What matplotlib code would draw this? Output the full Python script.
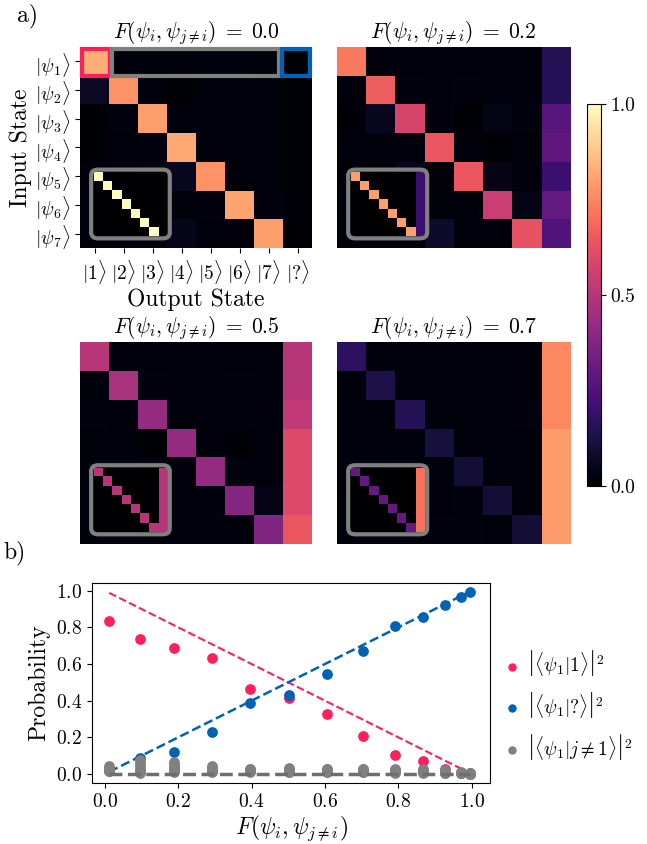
import numpy as np
import matplotlib
matplotlib.use("Agg")
import matplotlib.pyplot as plt
from matplotlib.patches import Rectangle, FancyBboxPatch

plt.rcParams["mathtext.fontset"] = "cm"
plt.rcParams["font.family"] = "serif"
plt.rcParams["font.serif"] = ["cmr10"]
plt.rcParams["axes.formatter.use_mathtext"] = True

# ── heatmap data (rows = input states, cols = |1>..|7>, |?>) ──────────────────
F_labels = ["0.0", "0.2", "0.5", "0.7"]

M_00 = [[0.83, 0.02, 0.02, 0.02, 0.03, 0.03, 0.02, 0.01],
        [0.07, 0.77, 0.02, 0.01, 0.02, 0.02, 0.02, 0.01],
        [0.01, 0.03, 0.80, 0.02, 0.02, 0.02, 0.02, 0.01],
        [0.01, 0.02, 0.03, 0.82, 0.02, 0.02, 0.02, 0.01],
        [0.02, 0.03, 0.04, 0.06, 0.77, 0.02, 0.02, 0.01],
        [0.02, 0.02, 0.02, 0.02, 0.03, 0.81, 0.03, 0.01],
        [0.02, 0.03, 0.03, 0.05, 0.02, 0.02, 0.80, 0.01]]

M_02 = [[0.72, 0.02, 0.02, 0.02, 0.02, 0.03, 0.02, 0.15],
        [0.02, 0.66, 0.03, 0.02, 0.03, 0.03, 0.02, 0.15],
        [0.01, 0.06, 0.58, 0.03, 0.01, 0.04, 0.03, 0.27],
        [0.02, 0.02, 0.03, 0.64, 0.02, 0.01, 0.02, 0.29],
        [0.01, 0.02, 0.05, 0.02, 0.64, 0.04, 0.02, 0.20],
        [0.03, 0.02, 0.02, 0.02, 0.02, 0.55, 0.04, 0.30],
        [0.02, 0.02, 0.02, 0.08, 0.02, 0.02, 0.63, 0.25]]

M_05 = [[0.50, 0.02, 0.02, 0.02, 0.02, 0.02, 0.02, 0.50],
        [0.02, 0.47, 0.03, 0.02, 0.02, 0.03, 0.02, 0.50],
        [0.03, 0.02, 0.42, 0.02, 0.02, 0.02, 0.02, 0.53],
        [0.02, 0.02, 0.01, 0.42, 0.02, 0.01, 0.02, 0.60],
        [0.02, 0.02, 0.03, 0.02, 0.42, 0.03, 0.02, 0.60],
        [0.02, 0.02, 0.02, 0.02, 0.03, 0.38, 0.04, 0.60],
        [0.02, 0.02, 0.02, 0.02, 0.03, 0.02, 0.37, 0.64]]

M_07 = [[0.17, 0.02, 0.02, 0.02, 0.02, 0.02, 0.02, 0.75],
        [0.02, 0.13, 0.02, 0.02, 0.02, 0.02, 0.02, 0.75],
        [0.02, 0.02, 0.15, 0.02, 0.02, 0.02, 0.03, 0.75],
        [0.02, 0.02, 0.03, 0.11, 0.02, 0.02, 0.02, 0.79],
        [0.02, 0.02, 0.02, 0.02, 0.10, 0.02, 0.02, 0.79],
        [0.02, 0.02, 0.02, 0.02, 0.03, 0.10, 0.02, 0.79],
        [0.02, 0.02, 0.02, 0.03, 0.03, 0.02, 0.10, 0.79]]

mats = [M_00, M_02, M_05, M_07]

# ideal matrices shown in the insets
inset_diag = [1.0, 0.8, 0.5, 0.3]
inset_q    = [0.0, 0.2, 0.5, 0.7]

in_labels  = [r"$|\psi_%d\rangle$" % i for i in range(1, 8)]
out_labels = [r"$|%d\rangle$" % i for i in range(1, 8)] + [r"$|?\rangle$"]

# ── panel b data ───────────────────────────────────────────────────────────────
F_vals = [0.012, 0.095, 0.189, 0.291, 0.397, 0.503, 0.607, 0.703, 0.792, 0.866, 0.926, 0.970, 0.995]
p_one  = [0.833, 0.738, 0.689, 0.631, 0.464, 0.413, 0.325, 0.205, 0.105, 0.069, 0.027, 0.008, 0.002]
p_q    = [0.015, 0.085, 0.118, 0.229, 0.389, 0.429, 0.544, 0.673, 0.807, 0.856, 0.920, 0.964, 0.993]
p_other = [[0.045, 0.035, 0.025, 0.020, 0.015, 0.030],
           [0.075, 0.060, 0.045, 0.030, 0.015, 0.005],
           [0.065, 0.050, 0.040, 0.025, 0.015, 0.010],
           [0.045, 0.035, 0.030, 0.020, 0.015, 0.010],
           [0.030, 0.025, 0.020, 0.015, 0.015, 0.010],
           [0.035, 0.030, 0.020, 0.015, 0.010, 0.010],
           [0.030, 0.025, 0.020, 0.015, 0.010, 0.010],
           [0.030, 0.025, 0.020, 0.015, 0.010, 0.010],
           [0.025, 0.020, 0.015, 0.010, 0.010, 0.005],
           [0.025, 0.020, 0.015, 0.010, 0.010, 0.005],
           [0.020, 0.015, 0.010, 0.010, 0.005, 0.005],
           [0.010, 0.008, 0.006, 0.005, 0.004, 0.003],
           [0.005, 0.004, 0.003, 0.002, 0.002, 0.001]]
theory_x   = [0.012, 0.995]
theory_one = [0.988, 0.005]
theory_q   = [0.012, 0.995]
theory_oth = [0.0, 0.0]

RED  = "#FF1F5B"
BLUE = "#0062B4"
GRAY = "#808080"

W, H = 647, 844
fig = plt.figure(figsize=(W / 100, H / 100), dpi=100)

def fax(x0, y0, x1, y1):
    # pixel box -> figure axes
    return fig.add_axes([x0 / W, 1 - y1 / H, (x1 - x0) / W, (y1 - y0) / H])

boxes = [(80, 47, 312, 248), (337, 47, 570, 248),
         (80, 342, 312, 544), (337, 342, 570, 544)]

for k, (box, M) in enumerate(zip(boxes, mats)):
    ax = fax(*box)
    im = ax.imshow(np.array(M), cmap="magma", vmin=0, vmax=1, aspect="auto")
    ax.set_title(r"$F(\psi_i,\psi_{j\neq i})\;=\;%s$" % F_labels[k], fontsize=15.5, pad=4)
    for s in ax.spines.values():
        s.set_visible(False)
    if k == 0:
        ax.set_yticks(range(7))
        ax.set_yticklabels(in_labels, fontsize=14)
        ax.set_xticks(range(8))
        ax.set_xticklabels(out_labels, fontsize=14)
        ax.set_ylabel("Input State", fontsize=17, labelpad=2)
        ax.set_xlabel("Output State", fontsize=17, labelpad=2)
        for (xa, xb, c) in [(-0.43, 0.52, RED), (0.62, 6.35, GRAY), (6.45, 7.43, BLUE)]:
            ax.add_patch(Rectangle((xa, -0.43), xb - xa, 0.95, fill=False,
                                   ec=c, lw=3, clip_on=False, zorder=5))
    else:
        ax.set_xticks([])
        ax.set_yticks([])

    # inset with ideal matrix
    ideal = np.zeros((7, 8))
    for i in range(7):
        ideal[i, i] = inset_diag[k]
        ideal[i, 7] = inset_q[k]
    ins = ax.inset_axes([0.06, 0.06, 0.315, 0.318])
    ins.imshow(ideal, cmap="magma", vmin=0, vmax=1, aspect="auto")
    ins.set_xticks([])
    ins.set_yticks([])
    for s in ins.spines.values():
        s.set_visible(False)
    ax.add_patch(FancyBboxPatch((0.06, 0.06), 0.315, 0.318,
                                boxstyle="round,pad=0.012,rounding_size=0.03",
                                transform=ax.transAxes, fill=False,
                                ec=GRAY, lw=3, zorder=6))

cax = fax(587, 104, 601, 486)
cb = fig.colorbar(im, cax=cax, ticks=[0.0, 0.5, 1.0])
cb.ax.tick_params(labelsize=14)
cb.ax.set_yticklabels(["0.0", "0.5", "1.0"])

fig.text(28 / W, 1 - 16 / H, "a)", fontsize=17, ha="center", va="center")
fig.text(14 / W, 1 - 553 / H, "b)", fontsize=17, ha="center", va="center")

# ── panel b ────────────────────────────────────────────────────────────────────
bx = fax(92, 583, 490, 783)
bx.plot(theory_x, theory_one, ls="--", color=RED, lw=1.5, zorder=2)
bx.plot(theory_x, theory_q, ls="--", color=BLUE, lw=1.8, zorder=2)
bx.scatter(F_vals, p_one, s=45, color=RED, zorder=3,
           label=r"$\left|\langle\psi_1|1\rangle\right|^2$")
bx.scatter(F_vals, p_q, s=45, color=BLUE, zorder=3,
           label=r"$\left|\langle\psi_1|?\rangle\right|^2$")
po = np.array(p_other)
for j in range(po.shape[1]):
    bx.scatter(F_vals, po[:, j], s=45, color=GRAY, zorder=3,
               label=r"$\left|\langle\psi_1|j\neq 1\rangle\right|^2$" if j == 0 else None)
bx.plot(theory_x, theory_oth, ls="--", color="#6e6e6e", lw=2.5, zorder=4)
bx.set_xlim(-0.035, 1.05)
bx.set_ylim(-0.049, 1.042)
bx.set_xticks([0.0, 0.2, 0.4, 0.6, 0.8, 1.0])
bx.set_yticks([0.0, 0.2, 0.4, 0.6, 0.8, 1.0])
bx.tick_params(labelsize=14)
bx.set_xlabel(r"$F(\psi_i,\psi_{j\neq i})$", fontsize=17, labelpad=2)
bx.set_ylabel("Probability", fontsize=17, labelpad=4)
bx.legend(loc="center left", bbox_to_anchor=(1.03, 0.39), frameon=False,
          fontsize=14, markerscale=0.75, handlelength=1.0, handletextpad=0.3,
          labelspacing=0.6, borderaxespad=0, borderpad=0)

fig.savefig("out.png", dpi=100)
